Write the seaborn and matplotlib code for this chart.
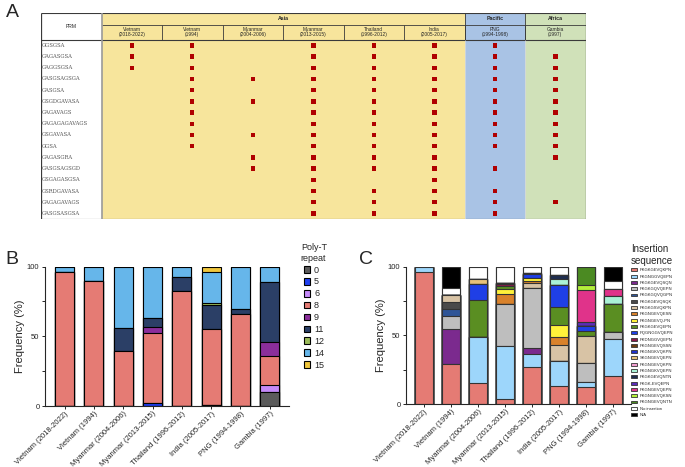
import matplotlib
matplotlib.use('Agg')

import numpy as np
import pandas as pd
import matplotlib.pyplot as plt
from matplotlib.patches import Patch
import seaborn as sns

sns.set_style('ticks')
plt.rcParams['font.family'] = ['Liberation Sans', 'DejaVu Sans']

# ---------------- data ----------------
site_names = ['Vietnam', 'Vietnam', 'Myanmar', 'Myanmar', 'Thailand', 'India', 'PNG', 'Gambia']
site_years = ['(2018-2022)', '(1994)', '(2004-2006)', '(2013-2015)', '(1996-2012)',
              '(2005-2017)', '(1994-1998)', '(1997)']
site_region = ['Asia', 'Asia', 'Asia', 'Asia', 'Asia', 'Asia', 'Pacific', 'Africa']
sites = [f'{n} {y}' for n, y in zip(site_names, site_years)]

# panel A: PRM motifs present per site
prm_motifs = ['GGSGSA', 'GAGASGSA', 'GAGGSGSA', 'GASGSAGSGA', 'GASGSA', 'GSGDGAVASA',
              'GAGAVAGS', 'GAGAGAGAVAGS', 'GSGAVASA', 'GGSA', 'GAGASGRA', 'GASGSAGSGD',
              'GSGAGASGSA', 'GSRDGAVASA', 'GAGAGAVAGS', 'GASGSASGSA']
prm_presence = [
    [1, 1, 0, 1, 1, 1, 1, 0],
    [1, 1, 0, 1, 1, 1, 1, 1],
    [1, 1, 0, 1, 1, 1, 1, 1],
    [0, 1, 1, 1, 1, 1, 1, 1],
    [0, 1, 0, 1, 1, 1, 1, 1],
    [0, 1, 1, 1, 1, 1, 1, 1],
    [0, 1, 0, 1, 1, 1, 1, 1],
    [0, 1, 0, 1, 1, 1, 1, 1],
    [0, 1, 1, 1, 1, 1, 1, 1],
    [0, 1, 0, 1, 1, 1, 1, 1],
    [0, 0, 1, 1, 1, 1, 0, 1],
    [0, 0, 1, 1, 1, 1, 1, 0],
    [0, 0, 0, 1, 0, 1, 0, 0],
    [0, 0, 0, 1, 1, 1, 1, 0],
    [0, 0, 0, 1, 1, 1, 1, 1],
    [0, 0, 0, 1, 1, 1, 1, 0],
]

# panel B: poly-T repeat frequencies (%), one row per repeat length
polyt_repeats = ['0', '5', '6', '8', '9', '11', '12', '14', '15']
polyt_colors = ['#5b5b5b', '#1f3ff0', '#c58af9', '#e57b74', '#8b2e9b', '#2b3f66',
                '#9bbb59', '#66b6ea', '#f0c63c']
polyt_freq = [
    [0, 0, 0, 0, 0, 0.7, 0, 9.8],
    [0, 0, 0, 1.9, 0, 0, 0, 0],
    [0, 0, 0, 0, 0, 0, 0, 5.3],
    [96.4, 89.5, 39.7, 50.7, 82.3, 54.3, 65.8, 20.8],
    [0, 0, 0, 4.3, 0, 0, 0, 10.3],
    [0, 0, 16.5, 6.0, 10.0, 17.5, 3.6, 42.8],
    [0, 0, 0, 0, 0, 1.2, 0, 0],
    [3.6, 10.5, 43.8, 37.1, 7.7, 22.2, 30.6, 11.0],
    [0, 0, 0, 0, 0, 4.1, 0, 0],
]

# panel C: insertion sequence frequencies (%)
insert_seqs = ['PKGKGEVQKPN', 'PKGNGGVQEPN', 'PKGKGEVQSQN', 'PKGKGQVQEPN', 'PKGKGQVQGPN',
               'PKGKGEVQSQK', 'PKGKGSVQKPN', 'PKGNGEVQESN', 'PKGNGEVQ-PN', 'PKGKGEVQEPN',
               'PQGNGGVQEPN', 'PKDNGGVQEPN', 'PKGNGEVQSSN', 'PKGNGKVQKPN', 'SKGNGEVQEPN',
               'PKGNGEVQKPN', 'PKGNGKVQEPN', 'PKGKGEVQNTN', 'PKGK-EVQEPN', 'PKGNGEVQEPN',
               'PKGNGEVQKSN', 'PKGNGEVQNTN', 'No insertion', 'N/A']
insert_colors = ['#e57b74', '#9dd6fb', '#7b2a8e', '#bebebe', '#2f5597', '#4a4a4a',
                 '#d8c3a5', '#d9822b', '#fff23a', '#5a8e22', '#1f3fe6', '#8b1a4a',
                 '#6b3e12', '#2233cc', '#e8c27a', '#f09fd0', '#aaf2d6', '#1f2d4f',
                 '#5b2db8', '#e0338a', '#b4f03a', '#4b8a22', '#ffffff', '#000000']
insert_freq = [
    [96.6, 29.1, 15.3, 3.4, 27.2, 12.9, 12.6, 20.4],
    [3.4, 0, 33.7, 39.1, 9.2, 18.4, 3.2, 26.7],
    [0, 25.5, 0, 0, 4.4, 0, 0, 0],
    [0, 9.7, 0, 30.8, 43.9, 0, 13.8, 5.1],
    [0, 5.4, 0, 0, 0, 0, 0, 0],
    [0, 5.1, 0, 0, 0, 0, 0, 0],
    [0, 4.8, 0, 0, 3.9, 11.9, 19.9, 0],
    [0, 0, 0, 7.3, 1.0, 5.8, 0, 0],
    [0, 0, 0, 3.1, 2.6, 8.5, 0, 0],
    [0, 0, 27.2, 2.2, 0, 13.4, 3.7, 21.1],
    [0, 0, 11.2, 0, 2.5, 16.2, 3.6, 0],
    [0, 0, 0, 1.6, 0, 0, 0, 0],
    [0, 0, 0, 0.8, 0, 0, 0, 0],
    [0, 0, 0, 0, 0, 0, 0, 0],
    [0, 0, 3.6, 0, 0, 0, 0, 0],
    [0, 0, 0, 0, 0, 0, 0, 0],
    [0, 0, 0, 0, 0, 4.4, 0, 5.3],
    [0, 0, 0, 0, 1.0, 2.4, 0, 0],
    [0, 0, 0, 0, 0, 0, 3.2, 0],
    [0, 0, 0, 0, 0, 0, 23.3, 5.6],
    [0, 0, 0, 0, 0, 0, 3.6, 0],
    [0, 0, 0, 0, 0, 0, 13.1, 0],
    [0, 5.4, 9.0, 11.7, 4.3, 6.1, 0, 5.3],
    [0, 15.0, 0, 0, 0, 0, 0, 10.5],
]

region_colors = {'Asia': '#f7e59c', 'Pacific': '#a9c3e5', 'Africa': '#d0e1b9'}

fig = plt.figure(figsize=(6.85, 4.67), dpi=100)


def stacked_bars(ax, freq, colors, edge):
    """stack by drawing cumulative heights, tallest first"""
    tops = np.cumsum(np.array(freq, dtype=float), axis=0)
    for k in range(len(freq) - 1, -1, -1):
        df = pd.DataFrame({'site': sites, 'top': tops[k]})
        sns.barplot(data=df, x='site', y='top', color=colors[k], saturation=1,
                    width=0.65, edgecolor=edge, linewidth=0.8, ax=ax)


def style_axis(ax):
    ax.set_ylim(0, 100)
    ax.set_yticks([0, 50, 100])
    ax.set_yticks([25, 75], minor=True)
    ax.set_xlim(-0.67, 7.66)
    ax.set_xlabel('')
    ax.set_ylabel('Frequency (%)', fontsize=8, labelpad=1.5)
    ax.tick_params(axis='y', labelsize=5.5, length=2.5, width=0.7, pad=1.5)
    ax.tick_params(axis='y', which='minor', length=2, width=0.7)
    ax.tick_params(axis='x', labelsize=5.5, length=2, width=0.7, pad=1)
    plt.setp(ax.get_xticklabels(), rotation=45, ha='right', rotation_mode='anchor')
    sns.despine(ax=ax)
    for s in ['left', 'bottom']:
        ax.spines[s].set_linewidth(0.8)


# ---------------- A: PRM table ----------------
ax_a = fig.add_axes([0.0599, 0.531, 0.795, 0.441])
head_top, head_mid, head_bot = -2.88, -1.84, -0.5
for i, reg in enumerate(site_region):
    ax_a.axvspan(i - 0.5, i + 0.5, color=region_colors[reg], lw=0)

pres = pd.DataFrame([(j, i) for i, row in enumerate(prm_presence)
                     for j, v in enumerate(row) if v], columns=['col', 'row'])
sns.scatterplot(data=pres, x='col', y='row', marker='s', s=10, color='#b00000',
                edgecolor='none', ax=ax_a, legend=False)

# header lines
lc = '#3a3a3a'
ax_a.hlines([head_top, head_bot, 15.5], -1.5, 7.5, color=lc, lw=0.8)
ax_a.hlines(head_mid, -0.5, 7.5, color=lc, lw=0.6)
ax_a.vlines([-1.5, 7.5], head_top, 15.5, color=lc, lw=0.9)
ax_a.vlines(-0.5, head_top, 15.5, color='#9a9a9a', lw=1.2)
ax_a.vlines(np.arange(0.5, 7.5), head_mid, head_bot, color=lc, lw=0.6)
ax_a.text(-1.0, (head_top + head_bot) / 2, 'PRM', ha='center', va='center', fontsize=3.6)

# region headers
start = 0
for i in range(1, len(site_region) + 1):
    if i == len(site_region) or site_region[i] != site_region[start]:
        ax_a.text((start + i - 1) / 2, (head_top + head_mid) / 2, site_region[start],
                  ha='center', va='center', fontsize=3.8, fontweight='bold')
        if i < len(site_region):
            ax_a.vlines(i - 0.5, head_top, head_bot, color=lc, lw=0.6)
            ax_a.vlines(i - 0.5, head_bot, 15.5, color='#d4d8dc', lw=0.6)
        start = i

for j, (n, y) in enumerate(zip(site_names, site_years)):
    ax_a.text(j, (head_mid + head_bot) / 2, f'{n}\n{y}', ha='center', va='center',
              fontsize=3.5, linespacing=1.0)
for i, m in enumerate(prm_motifs):
    ax_a.text(-1.49, i, m, ha='left', va='center', fontsize=3.8,
              family='DejaVu Serif', color='#555555')

ax_a.set_xlim(-1.5, 7.5)
ax_a.set_ylim(15.5, head_top)
ax_a.axis('off')

# ---------------- B: poly-T ----------------
ax_b = fig.add_axes([0.0657, 0.1306, 0.3562, 0.2984])
stacked_bars(ax_b, polyt_freq, polyt_colors, 'black')
style_axis(ax_b)
handles_b = [Patch(facecolor=c, edgecolor='black', linewidth=0.8) for c in polyt_colors]
ax_b.legend(handles_b, polyt_repeats, title='Poly-T\nrepeat', loc='upper left',
            bbox_to_anchor=(1.03, 1.2), frameon=False, fontsize=6.5, title_fontsize=6.5,
            handlelength=0.75, handleheight=0.75, handletextpad=0.4, labelspacing=0.32,
            borderpad=0)

# ---------------- C: insertion sequence ----------------
ax_c = fig.add_axes([0.5927, 0.1349, 0.3285, 0.2934])
stacked_bars(ax_c, insert_freq, insert_colors, '#333333')
style_axis(ax_c)
handles_c = [Patch(facecolor=c, edgecolor='#333333', linewidth=0.6) for c in insert_colors]
ax_c.legend(handles_c, insert_seqs, title='Insertion\nsequence', loc='upper left',
            bbox_to_anchor=(0.99, 1.18), frameon=False, fontsize=3, title_fontsize=7,
            handlelength=1.5, handleheight=0.7, handletextpad=0.6, labelspacing=0.55,
            borderpad=0)

fig.text(0.008, 0.992, 'A', fontsize=14, va='top', ha='left')
fig.text(0.008, 0.462, 'B', fontsize=14, va='top', ha='left')
fig.text(0.524, 0.462, 'C', fontsize=14, va='top', ha='left')

fig.savefig('out.png', dpi=100)
